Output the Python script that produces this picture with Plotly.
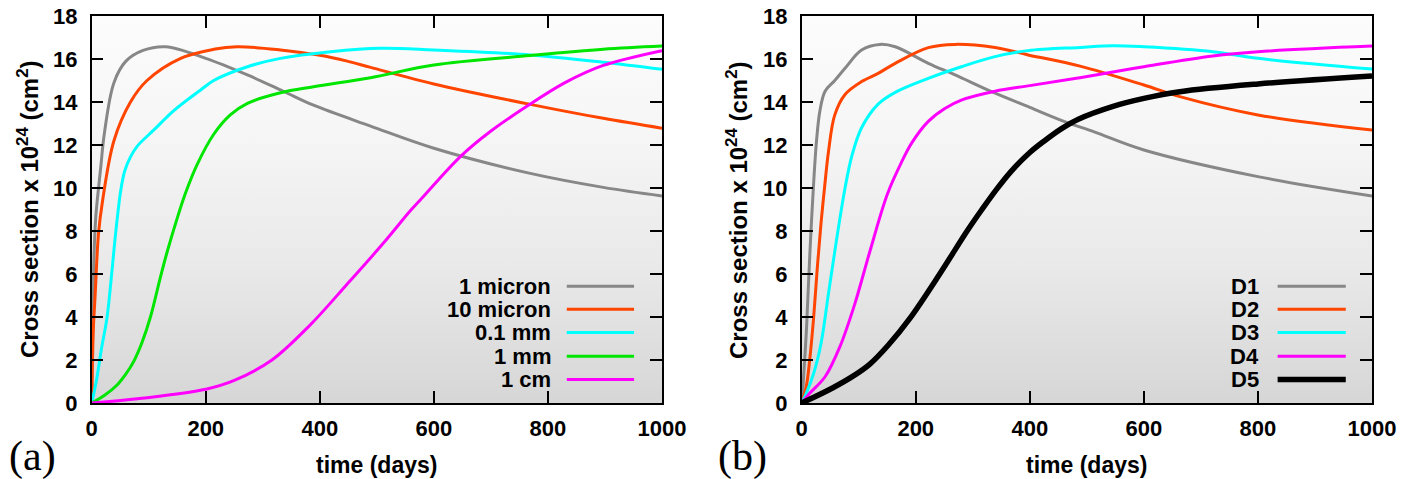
import plotly.graph_objects as go

# ---------------- data ----------------
# Panel (a)
a_1micron_x = [0, 2, 4, 7, 10, 16, 22, 39, 60, 90, 130, 200, 273, 336, 389, 489, 600, 769, 897, 1000]
a_1micron_y = [0, 4.0, 6.8, 8.6, 9.5, 11.0, 12.5, 14.9, 15.9, 16.4, 16.57, 16.03, 15.26, 14.5, 13.85, 12.88, 11.85, 10.68, 10.03, 9.63]

a_10micron_x = [0, 1, 3, 6, 12, 19, 39, 68, 97, 156, 214, 255, 331, 400, 448, 489, 600, 769, 897, 1000]
a_10micron_y = [0, 1.5, 3.5, 5.0, 7.9, 9.4, 12.2, 14.0, 15.0, 16.03, 16.45, 16.57, 16.42, 16.17, 15.9, 15.61, 14.84, 13.89, 13.24, 12.78]

a_01mm_x = [0, 8, 17, 27, 35, 42, 51, 58, 68, 80, 109, 144, 191, 214, 273, 331, 419, 506, 600, 769, 897, 1000]
a_01mm_y = [0, 1.0, 2.5, 4.0, 6.0, 7.9, 9.9, 10.8, 11.45, 11.95, 12.7, 13.6, 14.56, 15.0, 15.64, 16.03, 16.34, 16.5, 16.42, 16.19, 15.85, 15.52]

a_1mm_x = [0, 22, 45, 60, 74, 88, 103, 120, 132, 150, 165, 185, 214, 243, 273, 331, 389, 489, 600, 769, 897, 1000]
a_1mm_y = [0, 0.35, 0.85, 1.35, 1.95, 2.8, 4.0, 5.8, 7.0, 8.6, 9.8, 11.1, 12.5, 13.4, 13.94, 14.43, 14.71, 15.13, 15.72, 16.16, 16.45, 16.6]

a_1cm_x = [0, 88, 200, 250, 316, 382, 447, 512, 559, 578, 646, 700, 763, 830, 897, 1000]
a_1cm_y = [0, 0.22, 0.64, 1.05, 2.0, 3.6, 5.5, 7.45, 8.95, 9.5, 11.45, 12.65, 13.8, 14.9, 15.7, 16.39]

# Panel (b)
b_D1_x = [0, 1.5, 4, 8, 11, 14.4, 20, 26, 32, 41, 58, 76, 105, 137, 164, 222, 269, 333, 400, 461, 514, 600, 800, 1000]
b_D1_y = [0, 0.45, 1.5, 3.25, 5.0, 7.0, 9.8, 12.2, 13.6, 14.5, 15.0, 15.57, 16.42, 16.68, 16.57, 15.8, 15.26, 14.48, 13.75, 13.09, 12.6, 11.77, 10.53, 9.63]

b_D2_x = [0, 8, 14, 21, 27.5, 34, 40, 47, 58, 76, 105, 134, 164, 222, 269, 339, 397, 488, 600, 663, 800, 1000]
b_D2_y = [0, 0.76, 2.0, 4.0, 6.34, 8.4, 10.0, 11.7, 13.4, 14.35, 14.95, 15.33, 15.8, 16.53, 16.68, 16.53, 16.19, 15.67, 14.79, 14.25, 13.4, 12.7]

b_D3_x = [0, 8, 21, 34, 47, 60, 76, 88, 105, 134, 164, 222, 280, 339, 397, 488, 546, 600, 721, 800, 1000]
b_D3_y = [0, 0.45, 1.38, 2.78, 5.1, 7.4, 10.0, 11.5, 12.8, 13.9, 14.45, 15.1, 15.64, 16.11, 16.39, 16.54, 16.62, 16.57, 16.34, 16.03, 15.53]

b_D4_x = [0, 14, 41, 67, 93, 119, 150, 175, 193, 222, 251, 280, 339, 397, 488, 600, 721, 800, 1000]
b_D4_y = [0, 0.45, 1.22, 2.62, 4.6, 7.0, 9.7, 11.2, 12.1, 13.1, 13.7, 14.09, 14.5, 14.75, 15.13, 15.64, 16.14, 16.34, 16.6]

b_D5_x = [0, 54, 90, 119, 152, 190, 242, 290, 316, 342, 368, 400, 426, 455, 485, 546, 600, 663, 800, 1000]
b_D5_y = [0, 0.7, 1.25, 1.8, 2.7, 3.95, 6.0, 8.0, 9.0, 9.95, 10.8, 11.65, 12.2, 12.75, 13.2, 13.8, 14.17, 14.48, 14.84, 15.21]

a_labels = ["1 micron", "10 micron", "0.1 mm", "1 mm", "1 cm"]
b_labels = ["D1", "D2", "D3", "D4", "D5"]

x_range = [0, 1000]
y_range = [0, 18]

# ---------------- styles ----------------
COLORS = ["#878787", "#ff4500", "#00ffff", "#00e600", "#ff00ff"]
COLORS_B = ["#878787", "#ff4500", "#00ffff", "#ff00ff", "#000000"]
WIDTHS_B = [3, 3, 3, 3, 5.5]
FONT = "Liberation Sans, Arial, Helvetica, sans-serif"

fig = go.Figure()

# gradient backgrounds
for xa, ya in (("x", "y"), ("x2", "y2")):
    fig.add_trace(go.Scatter(
        x=[x_range[0], x_range[1], x_range[1], x_range[0], x_range[0]],
        y=[y_range[0], y_range[0], y_range[1], y_range[1], y_range[0]],
        fill="toself", mode="lines", line=dict(width=0),
        fillgradient=dict(type="vertical",
                          colorscale=[[0, "#d6d6d6"], [0.35, "#e9e9e9"], [0.7, "#f6f6f6"], [1, "#fcfcfc"]]),
        hoverinfo="skip", showlegend=False, xaxis=xa, yaxis=ya))

a_series = [(a_1micron_x, a_1micron_y), (a_10micron_x, a_10micron_y), (a_01mm_x, a_01mm_y),
            (a_1mm_x, a_1mm_y), (a_1cm_x, a_1cm_y)]
b_series = [(b_D1_x, b_D1_y), (b_D2_x, b_D2_y), (b_D3_x, b_D3_y), (b_D4_x, b_D4_y), (b_D5_x, b_D5_y)]

for (xs, ys), name, c in zip(a_series, a_labels, COLORS):
    fig.add_trace(go.Scatter(x=xs, y=ys, name=name, mode="lines",
                             line=dict(color=c, width=3, shape="spline", smoothing=1.0),
                             showlegend=False, xaxis="x", yaxis="y"))
for (xs, ys), name, c, w in zip(b_series, b_labels, COLORS_B, WIDTHS_B):
    fig.add_trace(go.Scatter(x=xs, y=ys, name=name, mode="lines",
                             line=dict(color=c, width=w, shape="spline", smoothing=1.0),
                             showlegend=False, xaxis="x2", yaxis="y2"))

axis_common = dict(showline=True, linecolor="black", linewidth=1.5, mirror="ticks",
                   ticks="inside", ticklen=12, tickwidth=2, tickcolor="black",
                   showgrid=False, zeroline=False,
                   tickfont=dict(family=FONT, size=22, color="black", weight="bold"))

Y0, Y1 = 1 - 403 / 479, 1 - 16 / 479
fig.update_layout(
    width=1415, height=479,
    margin=dict(l=0, r=0, t=0, b=0, autoexpand=False),
    paper_bgcolor="white", plot_bgcolor="white",
    xaxis=dict(domain=[91.7 / 1415, 662 / 1415], range=x_range, dtick=200, anchor="y",
               ticklabelstandoff=5, automargin=False, **axis_common),
    yaxis=dict(domain=[Y0, Y1], range=y_range, dtick=2, anchor="x",
               ticklabelstandoff=8, automargin=False, **axis_common),
    xaxis2=dict(domain=[801.7 / 1415, 1372 / 1415], range=x_range, dtick=200, anchor="y2",
                ticklabelstandoff=5, automargin=False, **axis_common),
    yaxis2=dict(domain=[Y0, Y1], range=y_range, dtick=2, anchor="x2",
                ticklabelstandoff=8, automargin=False, **axis_common),
    showlegend=False,
)

annotations = []
shapes = []
row_y = [0.302, 0.242, 0.182, 0.121, 0.061]
for panel, labels, colors, widths, text_x, l0, l1 in (
        ("", a_labels, COLORS, [3] * 5, 0.8066, 0.833, 0.951),
        ("2", b_labels, COLORS_B, WIDTHS_B, 0.8039, 0.8345, 0.954)):
    for lab, c, w, ry in zip(labels, colors, widths, row_y):
        annotations.append(dict(xref=f"x{panel} domain", yref=f"y{panel} domain",
                                x=text_x, y=ry, text=lab, showarrow=False,
                                xanchor="right", yanchor="middle", borderpad=0,
                                font=dict(family=FONT, size=22, color="black", weight="bold")))
        shapes.append(dict(type="line", xref=f"x{panel} domain", yref=f"y{panel} domain",
                           x0=l0, x1=l1, y0=ry, y1=ry, line=dict(color=c, width=w)))
    # axis titles
    annotations.append(dict(xref=f"x{panel} domain", yref="paper", x=0.5, y=1 - 465 / 479,
                            text="time (days)", showarrow=False, xanchor="center", yanchor="middle",
                            font=dict(family=FONT, size=23, color="black", weight="bold")))

for xpx in (28, 737):
    annotations.append(dict(xref="paper", yref="paper", x=xpx / 1415, y=1 - 210 / 479,
                            text="Cross section x 10<sup>24</sup> (cm<sup>2</sup>)",
                            textangle=-90, showarrow=False, xanchor="center", yanchor="middle",
                            font=dict(family=FONT, size=24, color="black", weight="bold")))

for xpx, lab in ((32, "(a)"), (742, "(b)")):
    annotations.append(dict(xref="paper", yref="paper", x=xpx / 1415, y=1 - 456 / 479,
                            text=lab, showarrow=False, xanchor="center", yanchor="middle",
                            font=dict(family="Liberation Serif, Times New Roman, serif",
                                      size=42, color="black")))

fig.update_layout(annotations=annotations, shapes=shapes)
fig.write_html("out.html", config={"displayModeBar": False},
               post_script="document.body.style.margin='0';document.body.style.padding='0';"
                           "document.body.style.overflow='hidden';")
